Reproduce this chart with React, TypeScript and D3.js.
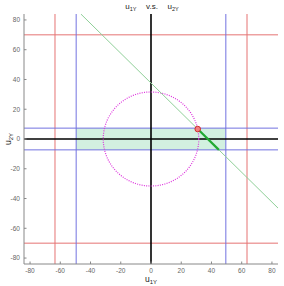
import React from "react";
import * as d3 from "d3";

const xTicks = [-80, -60, -40, -20, 0, 20, 40, 60, 80];
const yTicks = [-80, -60, -40, -20, 0, 20, 40, 60, 80];
const redX = [-63.5, 63.5];
const redY = [-70, 70];
const blueX = [-49.5, 49.5];
const blueY = [-7.3, 7.3];
const circleR = 31.6;
const diagLine: [number, number][] = [[-46.4, 84], [84, -46.4]];
const feasibleSeg: [number, number][] = [[30.9, 6.7], [44.9, -7.3]];
const optPoint: [number, number] = [30.9, 6.7];

export default function App() {
  const W = 284, H = 286;
  const x = d3.scaleLinear().domain([-84, 84]).range([24, 278]);
  const y = d3.scaleLinear().domain([-84, 84]).range([264, 14]);
  const [x0, x1] = x.range();
  const [y0, y1] = y.range();
  const line = d3.line<[number, number]>().x(d => x(d[0])).y(d => y(d[1]));
  const circ = d3.range(0, 361, 1).map(a => [circleR * Math.cos(a * Math.PI / 180), circleR * Math.sin(a * Math.PI / 180)] as [number, number]);
  const font = "'Liberation Sans', Arial, sans-serif";
  const tickCol = "#666";
  return (
    <svg width={W} height={H} style={{ position: "absolute", left: 0, top: 0 }} fontFamily={font}>
      <rect width={W} height={H} fill="#fff" />
      <defs>
        <clipPath id="pa"><rect x={x0} y={y1} width={x1 - x0} height={y0 - y1} /></clipPath>
      </defs>
      <g clipPath="url(#pa)">
        <rect x={x(blueX[0])} y={y(blueY[1])} width={x(blueX[1]) - x(blueX[0])} height={y(blueY[0]) - y(blueY[1])} fill="#d2f0e0" />
        {redX.map((v, i) => <line key={"rx" + i} x1={x(v)} x2={x(v)} y1={y0} y2={y1} stroke="#e57373" strokeWidth={1} />)}
        {redY.map((v, i) => <line key={"ry" + i} y1={y(v)} y2={y(v)} x1={x0} x2={x1} stroke="#e57373" strokeWidth={1} />)}
        {blueX.map((v, i) => <line key={"bx" + i} x1={x(v)} x2={x(v)} y1={y0} y2={y1} stroke="#7272e0" strokeWidth={1} />)}
        {blueY.map((v, i) => <line key={"by" + i} y1={y(v)} y2={y(v)} x1={x0} x2={x1} stroke="#7272e0" strokeWidth={1} />)}
        <line x1={x(0)} x2={x(0)} y1={y0} y2={y1} stroke="#000" strokeWidth={1.6} />
        <line y1={y(0)} y2={y(0)} x1={x0} x2={x1} stroke="#000" strokeWidth={1.6} />
        <path d={line(circ) || ""} fill="none" stroke="#dd33dd" strokeWidth={1.2} strokeDasharray="1 1.3" />
        <path d={line(diagLine) || ""} fill="none" stroke="#8fcf98" strokeWidth={1} />
        <path d={line(feasibleSeg) || ""} fill="none" stroke="#22aa33" strokeWidth={2.2} />
        <circle cx={x(optPoint[0])} cy={y(optPoint[1])} r={2.8} fill="#f08080" stroke="#cc2222" strokeWidth={0.9} />
      </g>
      <line x1={x0} x2={x0} y1={y0} y2={y1} stroke="#888" strokeWidth={1} />
      <line x1={x0} x2={x1} y1={y0} y2={y0} stroke="#888" strokeWidth={1} />
      {xTicks.map(t => (
        <g key={"xt" + t}>
          <line x1={x(t)} x2={x(t)} y1={y0} y2={y0 - 2.5} stroke="#888" />
          <text x={x(t)} y={y0 + 9} fontSize={6.5} textAnchor="middle" fill={tickCol}>{t}</text>
        </g>
      ))}
      {yTicks.map(t => (
        <g key={"yt" + t}>
          <line x1={x0} x2={x0 + 2.5} y1={y(t)} y2={y(t)} stroke="#888" />
          <text x={x0 - 4} y={y(t) + 2.3} fontSize={6.5} textAnchor="end" fill={tickCol}>{t}</text>
        </g>
      ))}
      <text x={x(0) + 1} y={8.5} fontSize={8} textAnchor="middle" fill="#222">
        <tspan>u</tspan><tspan fontSize={5.5} dy={2}>1Y</tspan>
        <tspan dy={-2}>{"\u2002\u2002\u2009v.s.\u2002\u2002\u2009"}</tspan>
        <tspan>u</tspan><tspan fontSize={5.5} dy={2}>2Y</tspan>
      </text>
      <text x={x(0)} y={281.5} fontSize={8.5} textAnchor="middle" fill="#222">
        <tspan>u</tspan><tspan fontSize={6} dy={2}>1Y</tspan>
      </text>
      <text transform={`translate(11, ${y(0)}) rotate(-90)`} fontSize={8.5} textAnchor="middle" fill="#222">
        <tspan>u</tspan><tspan fontSize={6} dy={2}>2Y</tspan>
      </text>
    </svg>
  );
}
